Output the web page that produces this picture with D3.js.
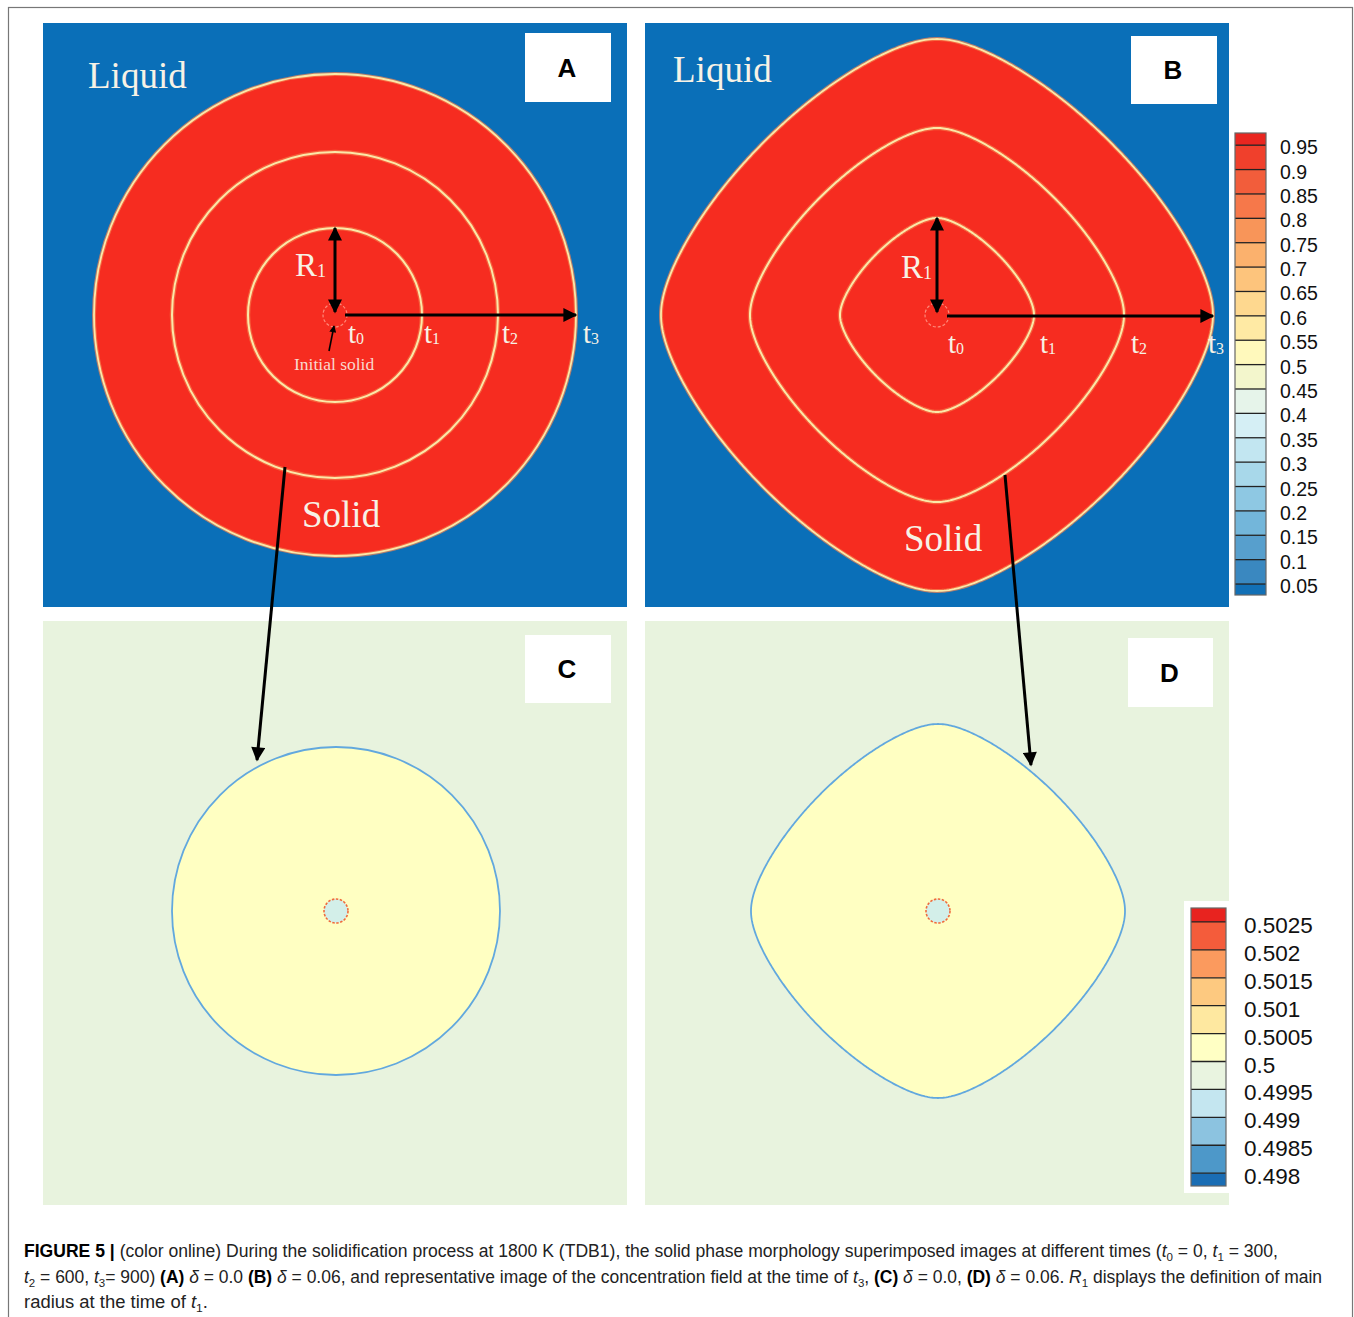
<!DOCTYPE html>
<html><head><meta charset="utf-8">
<script src="https://cdn.jsdelivr.net/npm/d3@7"></script>
<style>body{margin:0;background:#fff}svg{display:block}</style>
</head><body>
<svg id="fig" width="1354" height="1317"></svg>
<script>
// ---------- data ----------
const times = [0, 300, 600, 900];
const radiusA = [12, 87, 163, 241];      // front radius (grid units), delta = 0.0
const radiusB = [12, 97, 187, 276];      // tip radius (grid units), delta = 0.06
const shapeExponentB = 1.43;             // superellipse exponent of anisotropic front
const tipRounding = 0.09;                // softening of the dendrite tips
const radiusC = 164;                     // concentration field front, delta = 0.0
const radiusD = 187;                     // concentration field tip, delta = 0.06
const initialRadius = 12;

const cb1Ticks = [0.95,0.9,0.85,0.8,0.75,0.7,0.65,0.6,0.55,0.5,0.45,0.4,0.35,0.3,0.25,0.2,0.15,0.1,0.05];
const cb1Labels = ["0.95","0.9","0.85","0.8","0.75","0.7","0.65","0.6","0.55","0.5","0.45","0.4","0.35","0.3","0.25","0.2","0.15","0.1","0.05"];
const cb1Range = [0.0275, 0.975];
const cb1Colors = ["#1270b6","#3a88c0","#579fcd","#73b6da","#8ec8e3","#a8d8ea","#c2e6f1","#d5eff5","#e6f4ea","#f3f6cc",
                   "#fff9bc","#ffeaa4","#fed88f","#fdc47c","#fbb16d","#f89559","#f6784a","#f25d3b","#f0402c","#e92620"];

const cb2Ticks = [0.5025,0.502,0.5015,0.501,0.5005,0.5,0.4995,0.499,0.4985,0.498];
const cb2Labels = ["0.5025","0.502","0.5015","0.501","0.5005","0.5","0.4995","0.499","0.4985","0.498"];
const cb2Range = [0.49777, 0.50275];
const cb2Colors = ["#1a6db4","#4d98c9","#8cc3e0","#c4e6f0","#e9f4e0","#ffffc4","#fee8a0","#fdc980","#fb9a5e","#f45c3b","#e8231f"];

// ---------- drawing ----------
const svg = d3.select("#fig");
const PANEL = 584;
const pos = d3.scaleLinear().domain([-292, 292]).range([0, PANEL]);
const len = v => pos(v) - pos(0);

const RED = "#f62c20", BLUE = "#0a6fb8", FRONT = "#fbe8a8", GLOW = "#f7834e";
const serif = "'Liberation Serif', 'DejaVu Serif', serif";
const sans = "'Liberation Sans', Arial, sans-serif";

// outer frame
svg.append("rect").attr("x",8.5).attr("y",7.5).attr("width",1344).attr("height",1330)
  .attr("fill","none").attr("stroke","#777").attr("stroke-width",1.2);

const defs = svg.append("defs");
function marker(id, color, w, h){
  defs.append("marker").attr("id",id).attr("viewBox","0 0 10 10").attr("refX",9).attr("refY",5)
    .attr("markerWidth",w).attr("markerHeight",h).attr("markerUnits","userSpaceOnUse")
    .attr("orient","auto-start-reverse")
    .append("path").attr("d","M0,0 L10,5 L0,10 Z").attr("fill",color);
}
marker("ah","#000",18,14);
marker("ahs","#000",9,7);

// rounded superellipse path through d3.lineRadial
const angles = d3.range(0, 360, 0.5).map(d => d * Math.PI / 180);
function shapeG(t, p){
  const c = Math.sqrt(Math.cos(t) ** 2 + tipRounding ** 2), s = Math.sqrt(Math.sin(t) ** 2 + tipRounding ** 2);
  return 1 / Math.pow(Math.pow(c, p) + Math.pow(s, p), 1 / p);
}
function superPath(a, p){
  const g0 = shapeG(0, p);
  return d3.lineRadial()
    .angle(t => t)
    .radius(t => len(a) * shapeG(t, p) / g0)
    .curve(d3.curveLinearClosed)(angles);
}

function panel(x0, y0, bg){
  const g = svg.append("g").attr("transform",`translate(${x0},${y0})`);
  g.append("rect").attr("width",PANEL).attr("height",PANEL).attr("fill",bg);
  return g;
}
function labelBox(g, x, y, w, h, txt){
  g.append("rect").attr("x",x).attr("y",y).attr("width",w).attr("height",h).attr("fill","#fff");
  g.append("text").attr("x",x+w/2-1).attr("y",y+h/2+9).attr("text-anchor","middle")
    .attr("font-family",sans).attr("font-weight","bold").attr("font-size",26).text(txt);
}
function serifText(g, x, y, size, txt, fill){
  g.append("text").attr("x",x).attr("y",y).attr("font-family",serif).attr("font-size",size)
    .attr("fill",fill||"#f7f2e6").text(txt);
}
function subText(g, x, y, main, sub, size){
  const t = g.append("text").attr("x",x).attr("y",y).attr("font-family",serif).attr("font-size",size).attr("fill","#f7f2e6");
  t.append("tspan").text(main);
  t.append("tspan").attr("font-size",size*0.55).attr("dy",1).text(sub);
}
function front(sel){
  // soft orange halo with a cream front line
  return sel;
}

// ---- Panel A ----
const gA = panel(43, 23, BLUE);
const cA = [pos(0), pos(0)];
gA.append("circle").attr("cx",cA[0]).attr("cy",cA[1]).attr("r",len(radiusA[3]))
  .attr("fill",RED).attr("stroke",GLOW).attr("stroke-width",4).attr("stroke-opacity",0.7);
gA.append("circle").attr("cx",cA[0]).attr("cy",cA[1]).attr("r",len(radiusA[3]))
  .attr("fill","none").attr("stroke",FRONT).attr("stroke-width",1.8);
radiusA.slice(1,3).forEach(r => {
  gA.append("circle").attr("cx",cA[0]).attr("cy",cA[1]).attr("r",len(r))
    .attr("fill","none").attr("stroke",GLOW).attr("stroke-width",4.5).attr("stroke-opacity",0.6);
  gA.append("circle").attr("cx",cA[0]).attr("cy",cA[1]).attr("r",len(r))
    .attr("fill","none").attr("stroke",FRONT).attr("stroke-width",2);
});
gA.append("circle").attr("cx",cA[0]).attr("cy",cA[1]).attr("r",len(radiusA[0]))
  .attr("fill","none").attr("stroke","#ff8a7a").attr("stroke-width",1.2).attr("stroke-dasharray","3,2");
labelBox(gA, 482, 10, 86, 69, "A");
serifText(gA, 45, 65, 37, "Liquid");
serifText(gA, 259, 504, 37, "Solid");
gA.append("line").attr("x1",cA[0]).attr("y1",cA[1]-3).attr("x2",cA[0]).attr("y2",cA[1]-len(radiusA[1]))
  .attr("stroke","#000").attr("stroke-width",3).attr("marker-end","url(#ah)").attr("marker-start","url(#ah)");
gA.append("line").attr("x1",cA[0]+10).attr("y1",cA[1]).attr("x2",cA[0]+len(radiusA[3])).attr("y2",cA[1])
  .attr("stroke","#000").attr("stroke-width",3).attr("marker-end","url(#ah)");
gA.append("line").attr("x1",cA[0]-6).attr("y1",cA[1]+36).attr("x2",cA[0]-1).attr("y2",cA[1]+11)
  .attr("stroke","#000").attr("stroke-width",1.6).attr("marker-end","url(#ahs)");
subText(gA, 252, 253, "R", "1", 33);
const tLabA = [305, 381, 459, 540];
times.forEach((t,i) => subText(gA, tLabA[i], 320, "t", String(i), 29));
serifText(gA, 251, 347, 17.5, "Initial solid", "#f9d9cf");

// ---- Panel B ----
const gB = panel(645, 23, BLUE);
const cB = [pos(0), pos(0)];
gB.append("path").attr("transform",`translate(${cB[0]},${cB[1]})`).attr("d",superPath(radiusB[3], shapeExponentB))
  .attr("fill",RED).attr("stroke",GLOW).attr("stroke-width",4).attr("stroke-opacity",0.7);
gB.append("path").attr("transform",`translate(${cB[0]},${cB[1]})`).attr("d",superPath(radiusB[3], shapeExponentB))
  .attr("fill","none").attr("stroke",FRONT).attr("stroke-width",1.8);
radiusB.slice(1,3).forEach(r => {
  gB.append("path").attr("transform",`translate(${cB[0]},${cB[1]})`)
    .attr("d",superPath(r, shapeExponentB)).attr("fill","none").attr("stroke",GLOW).attr("stroke-width",4.5).attr("stroke-opacity",0.6);
  gB.append("path").attr("transform",`translate(${cB[0]},${cB[1]})`)
    .attr("d",superPath(r, shapeExponentB)).attr("fill","none").attr("stroke",FRONT).attr("stroke-width",2);
});
gB.append("circle").attr("cx",cB[0]).attr("cy",cB[1]).attr("r",len(radiusB[0]))
  .attr("fill","none").attr("stroke","#ff8a7a").attr("stroke-width",1.2).attr("stroke-dasharray","3,2");
labelBox(gB, 486, 13, 86, 68, "B");
serifText(gB, 28, 59, 37, "Liquid");
serifText(gB, 259, 528, 37, "Solid");
gB.append("line").attr("x1",cB[0]).attr("y1",cB[1]-3).attr("x2",cB[0]).attr("y2",cB[1]-len(radiusB[1]))
  .attr("stroke","#000").attr("stroke-width",3).attr("marker-end","url(#ah)").attr("marker-start","url(#ah)");
gB.append("line").attr("x1",cB[0]+10).attr("y1",cB[1]+1).attr("x2",cB[0]+len(radiusB[3])).attr("y2",cB[1]+1)
  .attr("stroke","#000").attr("stroke-width",3).attr("marker-end","url(#ah)");
subText(gB, 256, 255, "R", "1", 33);
const tLabB = [303, 395, 486, 563];
times.forEach((t,i) => subText(gB, tLabB[i], 330, "t", String(i), 29));

// ---- Panel C ----
const LIQ_C = "#e8f3de", SOL_C = "#ffffc2", EDGE_C = "#62a8de";
const gC = panel(43, 621, LIQ_C);
const cC = [pos(1), pos(-2)];
gC.append("circle").attr("cx",cC[0]).attr("cy",cC[1]).attr("r",len(radiusC))
  .attr("fill",SOL_C).attr("stroke",EDGE_C).attr("stroke-width",1.8);
gC.append("circle").attr("cx",cC[0]).attr("cy",cC[1]).attr("r",len(initialRadius))
  .attr("fill","#d3efe9").attr("stroke","#f06a3c").attr("stroke-width",1.6).attr("stroke-dasharray","2.5,1.5");
labelBox(gC, 482, 14, 86, 68, "C");

// ---- Panel D ----
const gD = panel(645, 621, LIQ_C);
const cD = [pos(1), pos(-2)];
gD.append("path").attr("transform",`translate(${cD[0]},${cD[1]})`).attr("d",superPath(radiusD, shapeExponentB))
  .attr("fill",SOL_C).attr("stroke",EDGE_C).attr("stroke-width",1.8);
gD.append("circle").attr("cx",cD[0]).attr("cy",cD[1]).attr("r",len(initialRadius))
  .attr("fill","#d3efe9").attr("stroke","#f06a3c").attr("stroke-width",1.6).attr("stroke-dasharray","2.5,1.5");
labelBox(gD, 483, 17, 85, 69, "D");

// ---- connecting arrows ----
svg.append("line").attr("x1",285).attr("y1",467).attr("x2",257).attr("y2",760)
  .attr("stroke","#000").attr("stroke-width",3).attr("marker-end","url(#ah)");
svg.append("line").attr("x1",1005).attr("y1",475).attr("x2",1031).attr("y2",765)
  .attr("stroke","#000").attr("stroke-width",3).attr("marker-end","url(#ah)");

// ---- colorbars ----
function colorbar(x, y0, y1, w, range, ticks, labels, colors, labX, fs, dyLab){
  const s = d3.scaleLinear().domain(range).range([y1, y0]);
  const edges = [range[0]].concat(ticks.slice().reverse(), [range[1]]);
  const g = svg.append("g");
  for (let i = 0; i < colors.length; i++){
    g.append("rect").attr("x",x).attr("width",w).attr("y",s(edges[i+1])).attr("height",s(edges[i])-s(edges[i+1]))
      .attr("fill",colors[i]);
  }
  ticks.forEach(t => g.append("line").attr("x1",x).attr("x2",x+w).attr("y1",s(t)).attr("y2",s(t))
    .attr("stroke","#222").attr("stroke-width",1.3));
  g.append("rect").attr("x",x).attr("y",y0).attr("width",w).attr("height",y1-y0)
    .attr("fill","none").attr("stroke","#666").attr("stroke-width",1.2);
  ticks.forEach((t,i) => g.append("text").attr("x",labX).attr("y",s(t)+dyLab)
    .attr("font-family",sans).attr("font-size",fs).attr("fill","#111").text(labels[i]));
}
colorbar(1235, 133, 595, 31, cb1Range, cb1Ticks, cb1Labels, cb1Colors, 1280, 19.5, 9);
svg.append("rect").attr("x",1184).attr("y",901).attr("width",48).attr("height",292).attr("fill","#fff");
colorbar(1191, 908, 1186, 35, cb2Range, cb2Ticks, cb2Labels, cb2Colors, 1244, 22.5, 11);

// ---- caption ----
const cap = svg.append("g").attr("font-family",sans).attr("font-size",17.5).attr("fill","#222");
function capLine(y, parts, width){
  const t = cap.append("text").attr("x",24).attr("y",y).attr("textLength",width).attr("lengthAdjust","spacingAndGlyphs");
  parts.forEach(p => {
    const sp = t.append("tspan").text(p[0]);
    if (p[1] === "b") sp.attr("font-weight","bold").attr("fill","#000");
    if (p[1] === "i") sp.attr("font-style","italic");
    if (p[1] === "sub") { sp.attr("font-size",11.5).attr("dy",4); }
    if (p[1] === "up") { sp.attr("dy",-4); }
  });
}
capLine(1257, [["FIGURE 5 | ","b"],["(color online) During the solidification process at 1800 K (TDB1), the solid phase morphology superimposed images at different times ("],
  ["t","i"],["0","sub"],[" = 0, ","up"],["t","i"],["1","sub"],[" = 300,","up"]], 1254);
capLine(1283, [["t","i"],["2","sub"],[" = 600, ","up"],["t","i"],["3","sub"],["= 900) ","up"],["(A)","b"],[" "],["δ","i"],[" = 0.0 "],["(B)","b"],[" "],["δ","i"],
  [" = 0.06, and representative image of the concentration field at the time of "],["t","i"],["3","sub"],[", ","up"],["(C)","b"],[" "],["δ","i"],[" = 0.0, "],
  ["(D)","b"],[" "],["δ","i"],[" = 0.06. "],["R","i"],["1","sub"],[" displays the definition of main","up"]], 1298);
capLine(1308, [["radius at the time of "],["t","i"],["1","sub"],[".","up"]], 184);
</script>
</body></html>
